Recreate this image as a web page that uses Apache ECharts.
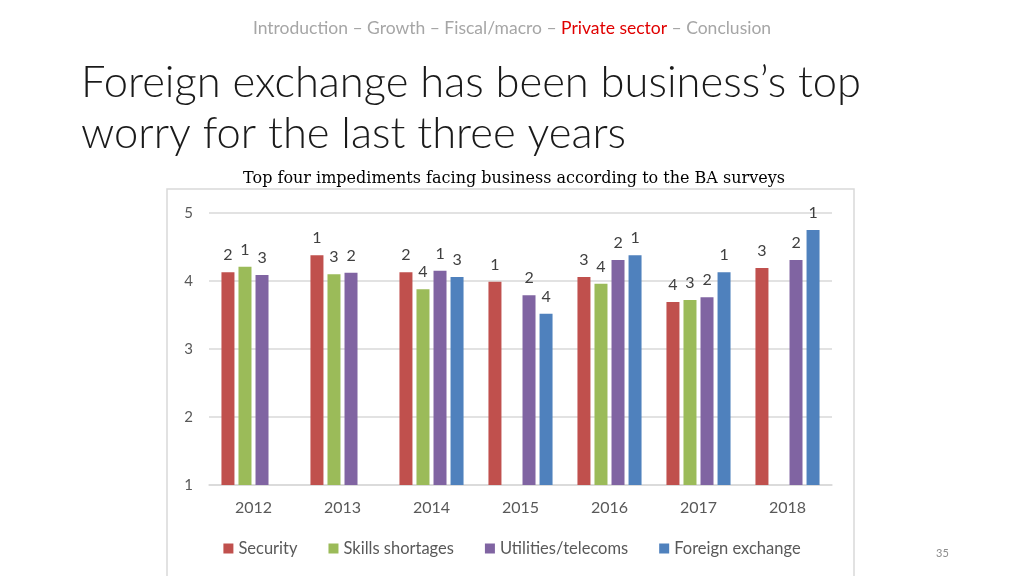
<!DOCTYPE html>
<html><head><meta charset="utf-8">
<script src="https://cdn.jsdelivr.net/npm/echarts@6/dist/echarts.min.js"></script>
<style>html,body{margin:0;padding:0;background:#fff;}#c{width:1024px;height:576px;}</style>
</head><body><div id="c"></div>
<script>
const years = ['2012','2013','2014','2015','2016','2017','2018'];
const security = [4.13, 4.38, 4.13, 3.99, 4.06, 3.69, 4.19];
const skills = [4.21, 4.10, 3.88, null, 3.96, 3.72, null];
const utilities = [4.09, 4.12, 4.15, 3.79, 4.31, 3.76, 4.31];
const forex = [null, null, 4.06, 3.52, 4.38, 4.13, 4.75];
const securityRank = [2, 1, 2, 1, 3, 4, 3];
const skillsRank = [1, 3, 4, null, 4, 3, null];
const utilitiesRank = [3, 2, 1, 2, 2, 2, 2];
const forexRank = [null, null, 3, 4, 1, 1, 1];
const yTicks = [1, 2, 3, 4, 5];

const chart = echarts.init(document.getElementById('c'));
const FONT = 'Lato, "Open Sans", sans-serif';
function mk(name, data, ranks, color) {
  return {
    name, type: 'bar', data, barWidth: 13, barGap: '31%',
    itemStyle: { color },
    label: {
      show: true, position: 'top', distance: 9,
      color: '#404040', fontSize: 16, fontFamily: FONT,
      formatter: p => ranks[p.dataIndex] == null ? '' : String(ranks[p.dataIndex])
    }
  };
}
chart.setOption({
  animation: false,
  title: [
    { text: '{g|Introduction – Growth – Fiscal/macro – }{r|Private sector}{g| – Conclusion}',
      left: 'center', top: 14,
      textStyle: { rich: {
        g: { color: '#a6a6a6', fontSize: 17.5, fontWeight: 'normal', fontFamily: FONT },
        r: { color: '#e00000', fontSize: 17.5, fontWeight: 'normal', fontFamily: FONT } } } },
    { text: 'Foreign exchange has been business’s top\nworry for the last three years',
      left: 76, top: 52,
      textStyle: { color: '#1a1a1a', fontSize: 43.5, fontWeight: 300, lineHeight: 51, fontFamily: FONT } },
    { text: 'Top four impediments facing business according to the BA surveys',
      left: 509, top: 166, textAlign: 'center',
      textStyle: { color: '#000', fontSize: 16, fontWeight: 'normal', fontFamily: '"DejaVu Serif", serif' } },
    { text: '35', left: 931, top: 543,
      textStyle: { color: '#8c8c8c', fontSize: 11, fontWeight: 'normal', fontFamily: FONT } }
  ],
  graphic: [{ type: 'rect', shape: { x: 167, y: 189, width: 687, height: 400 },
    style: { fill: 'none', stroke: '#d9d9d9', lineWidth: 1.5 }, z: -1 }],
  legend: {
    bottom: 14, left: 'center', itemWidth: 10, itemHeight: 10, itemGap: 31,
    icon: 'rect',
    textStyle: { color: '#595959', fontSize: 16.5, fontFamily: FONT }
  },
  grid: { left: 209, right: 192, top: 213, bottom: 91 },
  xAxis: {
    type: 'category', data: years,
    axisLine: { lineStyle: { color: '#d9d9d9', width: 1.5 } },
    axisTick: { show: false },
    axisLabel: { color: '#595959', fontSize: 16, fontFamily: FONT, margin: 15 }
  },
  yAxis: {
    type: 'value', min: yTicks[0], max: yTicks[yTicks.length - 1], interval: 1,
    axisLine: { show: false }, axisTick: { show: false },
    splitLine: { lineStyle: { color: '#d9d9d9', width: 1.5 } },
    axisLabel: { color: '#595959', fontSize: 15, fontFamily: FONT, margin: 16 }
  },
  series: [
    mk('Security', security, securityRank, '#c0504d'),
    mk('Skills shortages', skills, skillsRank, '#9bbb59'),
    mk('Utilities/telecoms', utilities, utilitiesRank, '#8064a2'),
    mk('Foreign exchange', forex, forexRank, '#4f81bd')
  ]
});
</script></body></html>
